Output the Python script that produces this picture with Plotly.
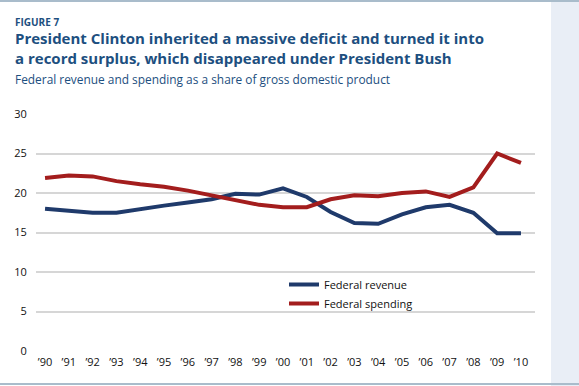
import plotly.graph_objects as go

years = ["’90", "’91", "’92", "’93", "’94", "’95", "’96", "’97", "’98", "’99", "’00",
         "’01", "’02", "’03", "’04", "’05", "’06", "’07", "’08", "’09", "’10"]
revenue = [18.0, 17.8, 17.5, 17.5, 18.0, 18.4, 18.8, 19.2, 19.9, 19.8, 20.6,
           19.5, 17.6, 16.2, 16.1, 17.3, 18.2, 18.5, 17.5, 14.9, 14.9]
spending = [21.9, 22.2, 22.1, 21.5, 21.1, 20.8, 20.3, 19.7, 19.2, 18.5, 18.2,
            18.2, 19.2, 19.7, 19.6, 20.0, 20.2, 19.5, 20.7, 25.0, 23.8]
y_ticks = [0, 5, 10, 15, 20, 25, 30]

W, H = 579, 386
L, R, T, B = 36, 535, 114, 351
DW, DH = R - L, B - T

def px(x):
    return (x - L) / DW

def py(y):
    return (B - y) / DH

xs = list(range(len(years)))
navy = "#1f3a6b"
red = "#a31d1d"
blue_text = "#1d4f80"

fig = go.Figure()
fig.add_trace(go.Scatter(x=xs, y=revenue, mode="lines", name="Federal revenue",
                         line=dict(color=navy, width=4)))
fig.add_trace(go.Scatter(x=xs, y=spending, mode="lines", name="Federal spending",
                         line=dict(color=red, width=4)))

fig.update_layout(
    width=W, height=H,
    margin=dict(l=L, r=W - R, t=T, b=H - B),
    paper_bgcolor="white", plot_bgcolor="white",
    font=dict(family="Open Sans, Noto Sans, sans-serif", color="#222222", size=11),
    showlegend=True,
    legend=dict(x=px(284), y=py(270), xanchor="left", yanchor="top",
                orientation="v", bgcolor="rgba(0,0,0,0)",
                font=dict(size=11, color="#111111"), itemwidth=30),
    xaxis=dict(range=[-0.38, 20.59], tickmode="array", tickvals=xs, ticktext=years,
               showgrid=False, zeroline=False, showline=False, ticks="outside",
               ticklen=1, tickcolor="rgba(0,0,0,0)",
               tickfont=dict(size=11, color="#111111"), fixedrange=True),
    yaxis=dict(range=[0, 30], tickmode="array", tickvals=y_ticks,
               showgrid=True, gridcolor="#d6d6d6", gridwidth=1.5,
               zeroline=False, showline=False, ticks="outside", ticklen=6,
               tickcolor="rgba(0,0,0,0)",
               tickfont=dict(size=11, color="#111111"), fixedrange=True),
)

shapes = [
    dict(type="rect", xref="paper", yref="paper", x0=px(551), x1=px(580), y0=py(386), y1=py(2),
         fillcolor="#e9eef6", line=dict(width=0), layer="below"),
    dict(type="line", xref="paper", yref="paper", x0=px(0), x1=px(579), y0=py(1), y1=py(1),
         line=dict(color="#a9bccb", width=2)),
    dict(type="line", xref="paper", yref="paper", x0=px(0), x1=px(579), y0=py(384), y1=py(384),
         line=dict(color="#a9bccb", width=2)),
]
fig.update_layout(shapes=shapes)

annotations = [
    dict(text="<b>FIGURE 7</b>", x=px(13), y=py(22), font=dict(size=10, color=blue_text)),
    dict(text="<b>President Clinton inherited a massive deficit and turned it into</b><br>"
              "<b>a record surplus, which disappeared under President Bush</b>",
         x=px(13), y=py(48.5), align="left", font=dict(size=15, color=blue_text)),
    dict(text="Federal revenue and spending as a share of gross domestic product",
         x=px(13), y=py(79.5), font=dict(size=11.9, color=blue_text)),
]
for a in annotations:
    a.update(xref="paper", yref="paper", xanchor="left", yanchor="middle", showarrow=False)
fig.update_layout(annotations=annotations)

fig.write_html("out.html", config={"displayModeBar": False},
               post_script="document.body.style.margin='0px';")
